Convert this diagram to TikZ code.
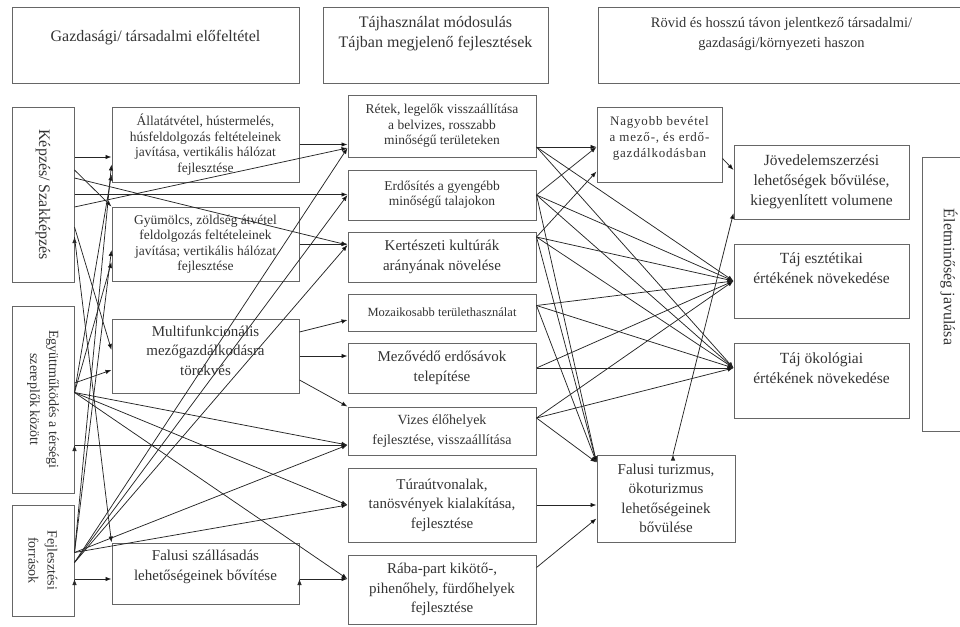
\documentclass[tikz,border=0pt]{standalone}
\usepackage{fontspec}
\setmainfont{Liberation Serif}
\newfontfamily\spacedfont{Liberation Serif}[LetterSpace=6]
\usetikzlibrary{positioning, calc, arrows.meta}

\begin{document}
\begin{tikzpicture}[x=1pt, y=-1pt,
	main_box/.style={rectangle, draw=black!60, line width=1pt, align=center, inner sep=1pt, text=black!80},
	small_box/.style={main_box, font=\fontsize{13.5}{15.5}\selectfont},
	big_box/.style={main_box, font=\fontsize{15}{19.5}\selectfont},
	head_box/.style={main_box, minimum height=75pt},
	side_box/.style={main_box, rotate=-90, font=\fontsize{16}{19}\selectfont, minimum height=62pt},
	lifted/.style={text depth=#1},
	arr/.style={-{Latex[length=6pt,width=4.5pt]}, draw=black!85, line width=0.75pt}]

	\useasboundingbox (0,0) rectangle (960,626);
	\clip (0,0) rectangle (960,626);

	% headers
	\node[head_box, font=\fontsize{16}{19.5}\selectfont, minimum width=287pt, lifted=20pt] (22) at (155.5,45.5) {Gazdasági/ társadalmi előfeltétel};
	\node[head_box, font=\fontsize{16}{19.5}\selectfont, minimum width=225pt, lifted=27pt] (23) at (435.5,45.5) {Tájhasználat módosulás\\Tájban megjelenő fejlesztések};
	\node[head_box, font=\fontsize{14.5}{20}\selectfont, minimum width=367pt, lifted=26pt] (24) at (781.5,45.5) {Rövid és hosszú távon jelentkező társadalmi/\\gazdasági/környezeti haszon};

	% left column
	\node[side_box, minimum width=175pt] (1) at (43,194.5) {Képzés/ Szakképzés};
	\node[side_box, font=\fontsize{14}{19}\selectfont, minimum width=187pt] (2) at (43,399.5) {Együttműködés a térségi\\szereplők között};
	\node[side_box, font=\fontsize{14}{19}\selectfont, minimum width=111pt] (3) at (43,560.5) {Fejlesztési\\források};

	% second column
	\node[small_box, minimum width=187pt, minimum height=75pt] (4) at (205.5,144.5) {Állatátvétel, hústermelés,\\húsfeldolgozás feltételeinek\\javítása, vertikális hálózat\\fejlesztése};
	\node[small_box, minimum width=187pt, minimum height=74pt] (5) at (205.5,244) {Gyümölcs, zöldség átvétel\\feldolgozás feltételeinek\\javítása; vertikális hálózat\\fejlesztése};
	\node[big_box, minimum width=187pt, minimum height=74pt, lifted=11pt] (6) at (205.5,356) {Multifunkcionális\\mezőgazdálkodásra\\törekvés};
	\node[big_box, minimum width=187pt, minimum height=61pt, lifted=16pt] (7) at (205.5,573.5) {Falusi szállásadás\\lehetőségeinek bővítése};

	% third column
	\node[small_box, minimum width=188pt, minimum height=62pt] (8) at (442,126) {Rétek, legelők visszaállítása\\a belvizes, rosszabb\\minőségű területeken};
	\node[small_box, minimum width=188pt, minimum height=50pt] (9) at (442,195) {Erdősítés a gyengébb\\minőségű talajokon};
	\node[big_box, minimum width=188pt, minimum height=50pt] (10) at (442,257) {Kertészeti kultúrák\\arányának növelése};
	\node[main_box, font=\fontsize{12.5}{14}\selectfont, minimum width=188pt, minimum height=37pt] (11) at (442,312.5) {Mozaikosabb területhasználat};
	\node[big_box, minimum width=188pt, minimum height=50pt] (12) at (442,368) {Mezővédő erdősávok\\telepítése};
	\node[big_box, font=\fontsize{14}{19.5}\selectfont, minimum width=188pt, minimum height=48pt] (13) at (442,431) {Vizes élőhelyek\\fejlesztése, visszaállítása};
	\node[big_box, minimum width=188pt, minimum height=74pt] (14) at (442,505) {Túraútvonalak,\\tanösvények kialakítása,\\fejlesztése};
	\node[big_box, minimum width=188pt, minimum height=69pt] (15) at (442,589.5) {Rába-part kikötő-,\\pihenőhely, fürdőhelyek\\fejlesztése};

	% fourth column
	\node[small_box, font=\spacedfont\fontsize{13}{16}\selectfont, minimum width=125pt, minimum height=75pt, lifted=16pt] (16) at (659.5,144.5) {Nagyobb bevétel\\a mező-, és erdő-\\gazdálkodásban};
	\node[big_box, minimum width=138pt, minimum height=87pt] (17) at (666,498.5) {Falusi turizmus,\\ökoturizmus\\lehetőségeinek\\bővülése};

	% fifth column
	\node[big_box, font=\fontsize{15.5}{20}\selectfont, minimum width=175pt, minimum height=74pt] (18) at (821.5,182) {Jövedelemszerzési\\lehetőségek bővülése,\\kiegyenlített volumene};
	\node[big_box, font=\fontsize{15.5}{20}\selectfont, minimum width=175pt, minimum height=74pt, lifted=25pt] (19) at (821.5,281) {Táj esztétikai\\értékének növekedése};
	\node[big_box, font=\fontsize{15.5}{20}\selectfont, minimum width=175pt, minimum height=75pt, lifted=24pt] (20) at (821.5,380.5) {Táj ökológiai\\értékének növekedése};
	\node[side_box, minimum width=274pt, minimum height=54pt] (21) at (949,294) {Életminőség javulása\kern34pt};

	% meeting points
	\coordinate (in8) at ($(8.west)+(0,22)$);
	\coordinate (in10) at ($(10.west)+(0,-12)$);
	\coordinate (in13) at ($(13.west)+(0,14)$);
	\coordinate (in15) at ($(15.west)+(0,-10.5)$);
	\coordinate (in17) at ($(17.north west)+(0,8)$);
	\coordinate (out2) at ($(2.north)+(0,-7)$);
	\coordinate (out3) at ($(3.north)+(0,-8)$);
	\coordinate (out3b) at ($(3.north)+(0,2)$);
	\coordinate (out8) at ($(8.east)+(0,21)$);
	\coordinate (out10) at ($(10.east)+(0,-20)$);
	\coordinate (out11) at ($(11.east)+(0,-7)$);
	\coordinate (out13) at ($(13.east)+(0,-13)$);
	\coordinate (in16) at (out8 -| 16.west);
	\coordinate (in19) at (19.west);
	\coordinate (in20) at (12.east -| 20.west);

	\path[arr]
	($(1.north)+(0,-37.5)$) edge ($(4.west)+(0,12.5)$)
	($(1.north)+(0,-24.5)$) edge (5.north west)
	($(1.north)+(0,-16.5)$) edge (in10)
	(1.north) edge (1.north -| 9.west)
	($(1.north)+(0,12.5)$) edge (in8)
	($(1.north)+(0,32.5)$) edge ($(6.west)+(0,-6)$)
	($(1.north)+(0,42.5)$) edge (7.north west);

	\path[arr]
	($(2.north)+(0,-16.5)$) edge ($(6.west)+(0,14)$)
	(out2) edge ($(4.west)+(0,30)$)
	(out2) edge ($(5.west)+(0,18)$)
	(out2) edge (in13)
	(out2) edge (14.west)
	(out2) edge (in15)
	($(2.north)+(0,45.5)$) edge (in13);

	\path[arr]
	(out3) edge ($(4.west)+(0,20)$)
	(out3) edge ($(5.west)+(0,6)$)
	(out3b) edge (in8)
	(out3b) edge (9.west)
	(out3b) edge (in10)
	(out3) edge (in13)
	(out3) edge (14.west)
	($(3.north)+(0,18.5)$) edge ($(7.west)+(0,5.5)$);

	\path[arr]
	(4.east) edge (4.east -| 8.west)
	(5.east) edge (5.east -| 10.west)
	($(6.east)+(0,-24)$) edge ($(11.west)+(0,7.5)$)
	(6.east) edge (6.east -| 12.west)
	($(6.east)+(0,24)$) edge (13.north west)
	($(7.east)+(0,5.5)$) edge (in15);

	\path[arr]
	(out8) edge (in16)
	(out8) edge (in19)
	(out8) edge (in20)
	(9.east) edge (in16)
	(9.east) edge (in19)
	(9.east) edge (in20)
	(9.east) edge (in17)
	(out10) edge ($(16.west)+(0,27)$)
	(out10) edge (in19)
	(out10) edge (in20)
	(out10) edge (in17)
	(out11) edge (in19)
	(out11) edge (in20)
	(out11) edge (in17)
	(12.east) edge (in20)
	(12.east) edge (in19)
	(out13) edge (in19)
	(out13) edge (in20)
	(out13) edge (in17)
	(14.east) edge (14.east -| 17.west)
	($(15.east)+(0,-22)$) edge ($(17.west)+(0,20)$)
	($(16.east)+(0,14)$) edge ($(18.west)+(0,-12)$)
	($(17.north)+(7,0)$) edge ($(18.west)+(0,31)$);
\end{tikzpicture}
\end{document}
